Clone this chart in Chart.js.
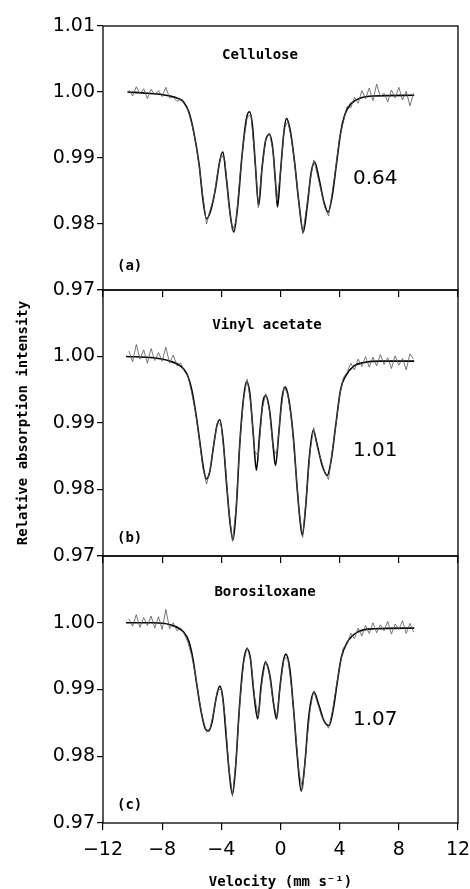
<!DOCTYPE html>
<html>
<head>
<meta charset="utf-8">
<script src="https://cdn.jsdelivr.net/npm/chart.js@4.4.0/dist/chart.umd.min.js"></script>
<style>
  html, body { margin: 0; padding: 0; background: #fff; }
  #wrap { position: relative; width: 470px; height: 889px; overflow: hidden; }
  #wrap canvas { position: absolute; left: 0; }
</style>
</head>
<body>
<div id="wrap">
  <canvas id="panelA" width="470" height="300" style="top:0px"></canvas>
  <canvas id="panelB" width="470" height="300" style="top:270px"></canvas>
  <canvas id="panelC" width="470" height="353" style="top:536px"></canvas>
</div>
<script>
// tick values
const velocityTicks = [-12, -8, -4, 0, 4, 8, 12];
const intensityTicks = [0.97, 0.98, 0.99, 1.00, 1.01];

// panel texts
const panelNames = ['Cellulose', 'Vinyl acetate', 'Borosiloxane'];
const panelTags = ['(a)', '(b)', '(c)'];
const panelRatios = ['0.64', '1.01', '1.07'];

// fitted curves
const fitVelA = [-10.35,-9.0,-8.0,-7.45,-6.9,-6.55,-6.2,-5.87,-5.5,-5.25,-5.0,-4.75,-4.4,-4.1,-3.9,-3.66,-3.39,-3.16,-2.89,-2.6,-2.3,-2.1,-1.9,-1.7,-1.48,-1.25,-1.02,-0.75,-0.52,-0.34,-0.2,0.0,0.23,0.41,0.68,0.95,1.24,1.54,1.81,2.08,2.31,2.6,2.94,3.21,3.5,3.8,4.07,4.34,4.75,5.42,6.33,9.04];
const fitA = [1.0000,0.9998,0.9996,0.9994,0.9990,0.9985,0.9970,0.9940,0.9890,0.9838,0.9808,0.9818,0.9853,0.9896,0.9909,0.9869,0.9813,0.9788,0.9828,0.9904,0.9960,0.9970,0.9950,0.9890,0.9828,0.9884,0.9925,0.9936,0.9914,0.9864,0.9826,0.9879,0.9939,0.9960,0.9939,0.9894,0.9833,0.9788,0.9828,0.9879,0.9894,0.9869,0.9833,0.9818,0.9843,0.9894,0.9939,0.9965,0.9982,0.9991,0.9994,0.9995];

const fitVelB = [-10.44,-8.59,-7.46,-6.78,-6.33,-5.99,-5.7,-5.42,-5.2,-5.02,-4.79,-4.52,-4.3,-4.1,-3.89,-3.62,-3.39,-3.21,-2.98,-2.76,-2.53,-2.3,-2.08,-1.85,-1.63,-1.4,-1.17,-0.99,-0.72,-0.5,-0.34,-0.11,0.11,0.32,0.56,0.86,1.13,1.31,1.47,1.69,1.94,2.21,2.49,2.82,3.16,3.44,3.73,4.07,4.41,4.97,5.65,6.78,9.04];
const fitB = [1.0000,0.9998,0.9993,0.9986,0.9974,0.9949,0.9911,0.9866,0.9831,0.9816,0.9826,0.9866,0.9896,0.9905,0.9876,0.9801,0.9746,0.9724,0.9776,0.9866,0.9931,0.9962,0.9946,0.9886,0.9829,0.9886,0.9934,0.9941,0.9916,0.9866,0.9836,0.9886,0.9939,0.9954,0.9936,0.9881,0.9801,0.9756,0.9731,0.9771,0.9846,0.9889,0.9866,0.9836,0.9821,0.9846,0.9896,0.9951,0.9971,0.9986,0.9991,0.9993,0.9993];

const fitVelC = [-10.44,-8.59,-7.46,-6.55,-6.21,-5.92,-5.65,-5.36,-5.08,-4.86,-4.63,-4.36,-4.11,-3.89,-3.66,-3.44,-3.25,-3.03,-2.8,-2.53,-2.26,-2.03,-1.81,-1.54,-1.31,-1.02,-0.72,-0.45,-0.27,-0.05,0.18,0.36,0.63,0.9,1.13,1.4,1.63,1.92,2.26,2.6,2.94,3.28,3.57,3.84,4.11,4.52,5.2,6.33,9.04];
const fitC = [1.0000,1.0000,0.9997,0.9986,0.9973,0.9946,0.9906,0.9866,0.9841,0.9838,0.9851,0.9886,0.9905,0.9886,0.9826,0.9770,0.9743,0.9785,0.9866,0.9936,0.9961,0.9946,0.9896,0.9856,0.9906,0.9941,0.9921,0.9876,0.9856,0.9901,0.9941,0.9953,0.9931,0.9866,0.9801,0.9748,0.9785,0.9861,0.9896,0.9876,0.9853,0.9846,0.9871,0.9911,0.9948,0.9971,0.9986,0.9991,0.9992];

// measured spectra (noisy), same velocity channels for all three
const obsVel = [-10.25,-10,-9.75,-9.5,-9.25,-9,-8.75,-8.5,-8.25,-8,-7.75,-7.5,-7.25,-7,-6.75,-6.5,-6.25,-6,-5.75,-5.5,-5.25,-5,-4.75,-4.5,-4.25,-4,-3.75,-3.5,-3.25,-3,-2.75,-2.5,-2.25,-2,-1.75,-1.5,-1.25,-1,-0.75,-0.5,-0.25,0,0.25,0.5,0.75,1,1.25,1.5,1.75,2,2.25,2.5,2.75,3,3.25,3.5,3.75,4,4.25,4.5,4.75,5,5.25,5.5,5.75,6,6.25,6.5,6.75,7,7.25,7.5,7.75,8,8.25,8.5,8.75,9];
const obsA = [1.0003,0.9994,1.0008,0.9997,1.0005,0.9990,1.0004,0.9996,1.0002,0.9993,1.0007,0.9991,0.9992,0.9986,0.9989,0.9982,0.9972,0.9952,0.9926,0.9888,0.9842,0.9800,0.9822,0.9840,0.9878,0.9906,0.9895,0.9830,0.9790,0.9805,0.9870,0.9925,0.9962,0.9966,0.9905,0.9825,0.9886,0.9928,0.9938,0.9910,0.9835,0.9877,0.9945,0.9955,0.9928,0.9884,0.9830,0.9785,0.9822,0.9866,0.9897,0.9874,0.9850,0.9825,0.9812,0.9848,0.9888,0.9932,0.9955,0.9978,0.9976,0.9992,0.9983,1.0002,0.9990,1.0006,0.9987,1.0012,0.9993,0.9998,0.9985,1.0003,0.9991,1.0007,0.9988,1.0001,0.9979,0.9998];
const obsB = [1.0008,0.9992,1.0018,0.9996,1.0010,0.9990,1.0012,0.9994,1.0006,0.9993,1.0014,0.9990,1.0002,0.9986,0.9990,0.9978,0.9970,0.9945,0.9917,0.9878,0.9833,0.9808,0.9830,0.9870,0.9902,0.9895,0.9843,0.9770,0.9722,0.9772,0.9870,0.9936,0.9966,0.9928,0.9858,0.9850,0.9920,0.9944,0.9920,0.9862,0.9852,0.9915,0.9955,0.9942,0.9905,0.9840,0.9768,0.9728,0.9790,0.9858,0.9893,0.9862,0.9844,0.9825,0.9815,0.9858,0.9898,0.9942,0.9968,0.9976,0.9990,0.9980,0.9996,0.9985,1.0000,0.9984,0.9999,0.9986,1.0003,0.9988,0.9998,0.9982,1.0001,0.9987,0.9997,0.9980,1.0004,0.9996];
const obsC = [1.0006,0.9995,1.0012,0.9993,1.0008,0.9996,1.0010,0.9992,1.0009,0.9990,1.0020,0.9991,1.0000,0.9988,0.9992,0.9983,0.9970,0.9950,0.9922,0.9885,0.9855,0.9836,0.9842,0.9868,0.9900,0.9900,0.9860,0.9785,0.9740,0.9795,0.9880,0.9940,0.9963,0.9942,0.9888,0.9860,0.9912,0.9943,0.9924,0.9882,0.9858,0.9910,0.9948,0.9946,0.9902,0.9840,0.9775,0.9752,0.9815,0.9870,0.9898,0.9880,0.9862,0.9850,0.9842,0.9866,0.9902,0.9935,0.9962,0.9968,0.9984,0.9976,0.9992,0.9980,0.9996,0.9984,1.0000,0.9985,0.9997,0.9988,1.0002,0.9983,0.9998,0.9990,1.0003,0.9984,0.9999,0.9986];

const numFont = 'DejaVu Sans';
const monoFont = '"DejaVu Sans Mono", "Liberation Mono", monospace';

// box round the plot area
const frame = {
  id: 'frame',
  afterDatasetsDraw(chart) {
    const a = chart.chartArea;
    const ctx = chart.ctx;
    ctx.save();
    ctx.strokeStyle = '#000';
    ctx.lineWidth = 1.3;
    ctx.strokeRect(a.left, a.top, a.right - a.left, a.bottom - a.top);
    ctx.restore();
  }
};

// panel name, letter and ratio
const notes = {
  id: 'notes',
  afterDraw(chart, args, opts) {
    const ctx = chart.ctx;
    ctx.save();
    ctx.fillStyle = '#000';
    ctx.textBaseline = 'alphabetic';
    (opts.items || []).forEach(n => {
      ctx.font = n.font;
      ctx.textAlign = n.align;
      ctx.fillText(n.text, n.x, n.y);
    });
    ctx.restore();
  }
};

function makePanel(id, i, fitVel, fit, obs, cfg) {
  const off = cfg.offset;
  return new Chart(document.getElementById(id), {
    type: 'line',
    data: {
      datasets: [
        {
          data: obsVel.map((v, k) => ({x: v, y: obs[k]})),
          borderColor: '#555', borderWidth: 0.8, pointRadius: 0, tension: 0
        },
        {
          data: fitVel.map((v, k) => ({x: v, y: fit[k]})),
          borderColor: '#000', borderWidth: 1.6, pointRadius: 0,
          cubicInterpolationMode: 'monotone'
        }
      ]
    },
    options: {
      responsive: false,
      animation: false,
      events: [],
      layout: {padding: {top: cfg.top, left: 0, right: 12, bottom: 0}},
      plugins: {
        legend: {display: false},
        tooltip: {enabled: false},
        notes: {items: [
          {text: panelNames[i], x: cfg.nameX, y: cfg.nameY - off, align: 'center', font: 'bold 14px ' + monoFont},
          {text: panelTags[i], x: 117, y: cfg.tagY - off, align: 'left', font: 'bold 14px ' + monoFont},
          {text: panelRatios[i], x: 353, y: cfg.ratioY - off, align: 'left', font: '20px "' + numFont + '"'}
        ]}
      },
      scales: {
        x: {
          type: 'linear', min: -12, max: 12,
          afterBuildTicks: s => { s.ticks = velocityTicks.map(v => ({value: v})); },
          afterFit: s => { s.height = cfg.xHeight; s.paddingLeft = 0; s.paddingRight = 0; },
          border: {display: false},
          grid: {drawOnChartArea: false, drawTicks: true, tickLength: 7, color: '#000', lineWidth: 1.2},
          ticks: {
            display: cfg.xLabels, padding: 9, color: '#000', maxRotation: 0, autoSkip: false,
            font: {family: numFont, size: 19},
            callback: v => v < 0 ? '\u2212' + Math.abs(v) : String(v)
          },
          title: {
            display: cfg.xLabels, text: 'Velocity (mm s\u207B\u00B9)', color: '#000',
            font: {family: monoFont, size: 14, weight: 'bold'},
            padding: {top: 0, bottom: -2}
          }
        },
        y: {
          type: 'linear', min: 0.97, max: 1.01,
          afterBuildTicks: s => { s.ticks = intensityTicks.map(v => ({value: v})); },
          afterFit: s => { s.width = 103; s.paddingTop = 0; s.paddingBottom = 0; },
          border: {display: false},
          grid: {drawOnChartArea: false, drawTicks: true, tickLength: 6, color: '#000', lineWidth: 1.2},
          ticks: {
            padding: 2, color: '#000', autoSkip: false,
            font: {family: numFont, size: 19},
            callback: v => (v > 1.005 && !cfg.topLabel) ? '' : v.toFixed(2)
          },
          title: {
            display: cfg.yTitle, text: 'Relative absorption intensity', color: '#000',
            font: {family: monoFont, size: 14, weight: 'bold'},
            padding: {top: 14.6, bottom: 0}
          }
        }
      }
    },
    plugins: [frame, notes]
  });
}

makePanel('panelA', 0, fitVelA, fitA, obsA, {
  offset: 0, top: 26, xHeight: 10, xLabels: false, topLabel: true, yTitle: false,
  nameX: 260, nameY: 59, tagY: 270, ratioY: 184
});
makePanel('panelB', 1, fitVelB, fitB, obsB, {
  offset: 270, top: 20, xHeight: 14, xLabels: false, topLabel: false, yTitle: true,
  nameX: 267, nameY: 329, tagY: 542, ratioY: 456
});
makePanel('panelC', 2, fitVelC, fitC, obsC, {
  offset: 536, top: 20, xHeight: 66, xLabels: true, topLabel: false, yTitle: false,
  nameX: 265, nameY: 596, tagY: 809, ratioY: 725
});
</script>
</body>
</html>
